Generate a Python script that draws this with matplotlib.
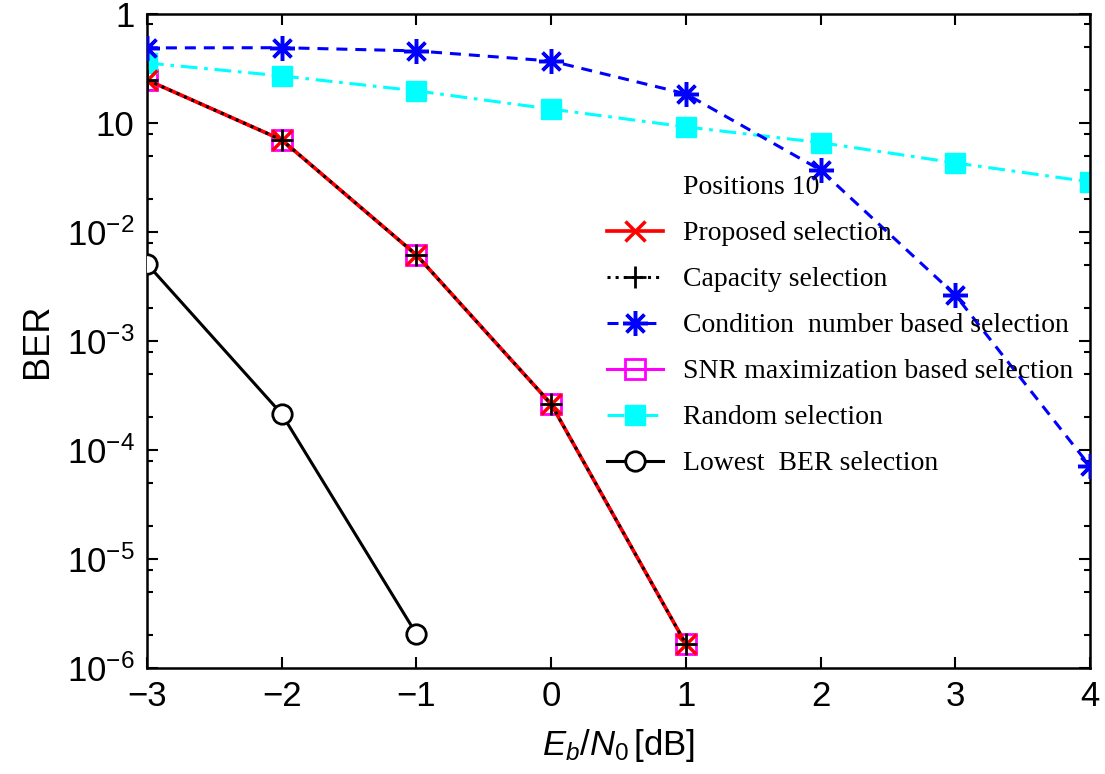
import numpy as np
import matplotlib
matplotlib.use('Agg')
import matplotlib.pyplot as plt
from matplotlib.ticker import FixedLocator, FixedFormatter, LogLocator, NullFormatter

plt.rcParams['font.family'] = 'Liberation Sans'
plt.rcParams['mathtext.fontset'] = 'custom'
plt.rcParams['mathtext.rm'] = 'Liberation Sans'
plt.rcParams['mathtext.it'] = 'Liberation Sans:italic'

# Eb/N0 in dB
snr = [-3, -2, -1, 0, 1, 2, 3, 4]
snr_short = [-3, -2, -1, 0, 1]
snr_low = [-3, -2, -1]

ber_proposed = [0.248, 0.070, 6.15e-3, 2.64e-4, 1.66e-6]
ber_capacity = [0.248, 0.070, 6.15e-3, 2.64e-4, 1.66e-6]
ber_snrmax = [0.248, 0.070, 6.15e-3, 2.64e-4, 1.66e-6]
ber_condition = [0.488, 0.49, 0.458, 0.37, 0.185, 0.037, 2.64e-3, 7.1e-5]
ber_random = [0.355, 0.27, 0.197, 0.134, 0.092, 0.066, 0.043, 0.0288]
ber_lowest = [5.1e-3, 2.14e-4, 2.05e-6]

ytick_vals = [1, 1e-1, 1e-2, 1e-3, 1e-4, 1e-5, 1e-6]
ytick_labels = ['1', '10', r'$10^{-2}$', r'$10^{-3}$', r'$10^{-4}$', r'$10^{-5}$', r'$10^{-6}$']

fig = plt.figure(figsize=(11.05, 7.74), dpi=100)
ax = fig.add_axes([0.133, 0.137, 0.8534, 0.845])

lw = 2.2
ms = 14
ast = (8, 2, 0)

ax.plot([], [], ' ', label='Positions 10')
ax.plot(snr_short, ber_snrmax, '-', color='magenta', marker='s', mfc='none', mec='magenta',
        ms=ms, mew=2, lw=lw, zorder=2)
h1, = ax.plot(snr_short, ber_proposed, '-', color='red', marker='x', ms=ms, mew=2.5, lw=lw*1.2,
              label='Proposed selection', zorder=3)
h2, = ax.plot(snr_short, ber_capacity, ':', color='black', marker='+', ms=ms+2, mew=2, lw=lw,
              label='Capacity selection', zorder=4)
h3, = ax.plot(snr, ber_condition, '--', color='blue', marker=ast, ms=ms+4, mew=2.5, lw=lw,
              dashes=(3.6, 2.6), label='Condition  number based selection', zorder=3)
h4, = ax.plot([], [], '-', color='magenta', marker='s', mfc='none', mec='magenta', ms=ms, mew=2, lw=lw,
              label='SNR maximization based selection')
h5, = ax.plot(snr, ber_random, '-.', color='cyan', marker='s', mfc='cyan', mec='cyan', ms=ms, lw=lw,
              dashes=(5.5, 2.2, 1.2, 2.2), label='Random selection', zorder=2)
h6, = ax.plot(snr_low, ber_lowest, '-', color='black', marker='o', mfc='white', mec='black',
              ms=ms, mew=2, lw=lw, label='Lowest  BER selection', zorder=3)

ax.set_yscale('log')
ax.set_xlim(-3, 4)
ax.set_ylim(1e-6, 1)
ax.set_xticks(snr)
ax.set_xticklabels(['\u22123', '\u22122', '\u22121', '0', '1', '2', '3', '4'])
ax.yaxis.set_major_locator(FixedLocator(ytick_vals))
ax.yaxis.set_major_formatter(FixedFormatter(ytick_labels))
ax.yaxis.set_minor_locator(LogLocator(base=10, subs=[2, 5, 8]))
ax.yaxis.set_minor_formatter(NullFormatter())
ax.tick_params(which='both', direction='in', top=True, right=True, labelsize=25, width=1.5)
ax.tick_params(which='major', length=8, pad=9)
ax.tick_params(which='minor', length=4)
for s in ax.spines.values():
    s.set_linewidth(1.8)

ax.set_xlabel(r'$E_b/N_0\,$[dB]', fontsize=25, labelpad=10)
ax.set_ylabel('BER', fontsize=26, labelpad=8)

leg = ax.legend(loc='upper left', bbox_to_anchor=(607 / 1105, 1 - 175 / 774),
                bbox_transform=fig.transFigure, frameon=False, borderpad=0, borderaxespad=0,
                handlelength=2.0, handletextpad=0.75, labelspacing=0.74,
                prop={'family': 'Liberation Serif', 'size': 20})

fig.savefig('out.png', dpi=100)
